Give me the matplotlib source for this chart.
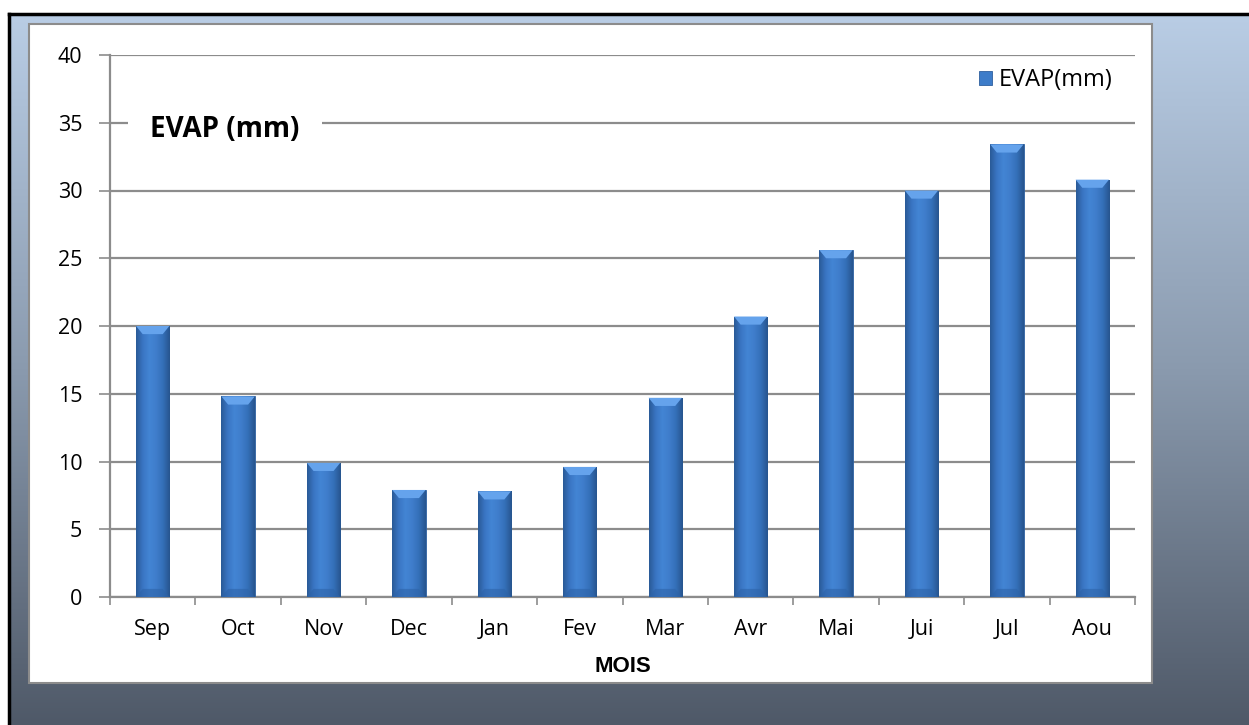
import numpy as np
import matplotlib
matplotlib.use("Agg")
import matplotlib.pyplot as plt
from matplotlib.patches import Rectangle, Polygon
from matplotlib.colors import LinearSegmentedColormap

months = ["Sep", "Oct", "Nov", "Dec", "Jan", "Fev", "Mar", "Avr", "Mai", "Jui", "Jul", "Aou"]
evap = [20.0, 14.8, 9.9, 7.9, 7.8, 9.6, 14.7, 20.7, 25.6, 30.0, 33.4, 30.8]
yticks = [0, 5, 10, 15, 20, 25, 30, 35, 40]
series_name = "EVAP(mm)"
title_text = "EVAP (mm)"
xlabel_text = "MOIS"

W, H = 1249, 725
fig = plt.figure(figsize=(W / 100, H / 100), dpi=100)

def fx(px):
    return px / W

def fy(py):
    return 1 - py / H

# background gradient
bg = fig.add_axes([fx(9), 0, 1 - fx(9), fy(14)])
bg.set_zorder(-5)
bg.set_axis_off()
grad = np.linspace(0, 1, 256).reshape(-1, 1)
bgcmap = LinearSegmentedColormap.from_list("bg", ["#b9cde5", "#8a9aae", "#4f5968"])
bg.imshow(grad, aspect="auto", cmap=bgcmap, extent=[0, 1, 0, 1], origin="upper")
bg.set_xlim(0, 1)
bg.set_ylim(0, 1)
bg.plot([0, 0], [0, 1], color="black", lw=2.5, transform=bg.transAxes, clip_on=False)
bg.plot([0, 1], [1, 1], color="black", lw=2.5, transform=bg.transAxes, clip_on=False)

# white panel
fig.patches.append(Rectangle((fx(29), fy(683)), fx(1152) - fx(29), fy(24) - fy(683),
                             transform=fig.transFigure, facecolor="white",
                             edgecolor="#8c8c8c", lw=1.5, zorder=-2))

ax = fig.add_axes([fx(110), fy(597), fx(1135) - fx(110), fy(55) - fy(597)])
ax.set_zorder(1)
ax.set_facecolor("none")
x = np.arange(len(months))
bars = ax.bar(x, evap, width=0.39, color="#3d7cc9", edgecolor="#2e5f9e", lw=0.6,
              label=series_name, zorder=3)

barcmap = LinearSegmentedColormap.from_list(
    "bar", ["#2a5a98", "#3a76c4", "#4385d4", "#3f7dcb", "#3470b8", "#27558f"])
hgrad = np.linspace(0, 1, 64).reshape(1, -1)
for b in bars:
    x0, y0 = b.get_x(), b.get_y()
    w, h = b.get_width(), b.get_height()
    im = ax.imshow(hgrad, aspect="auto", cmap=barcmap, extent=[x0, x0 + w, y0, y0 + h],
                   zorder=3.5, interpolation="bilinear")
    im.set_clip_path(b)
    bev = 0.6
    d = w * 0.2
    ax.add_patch(Polygon([[x0, y0 + h], [x0 + w, y0 + h], [x0 + w - d, y0 + h - bev],
                          [x0 + d, y0 + h - bev]], closed=True, facecolor="#65a3ec",
                         edgecolor="none", zorder=4))
    ax.add_patch(Polygon([[x0, y0], [x0 + w, y0], [x0 + w - d, y0 + bev],
                          [x0 + d, y0 + bev]], closed=True, facecolor="#2d63a8",
                         edgecolor="none", zorder=4, alpha=0.6))

ax.set_xlim(-0.5, len(months) - 0.5)
ax.set_ylim(0, 40)
ax.set_yticks(yticks)
ax.set_yticklabels([str(v) for v in yticks], fontsize=15.5, family="Open Sans")
ax.yaxis.grid(True, color="#8c8c8c", lw=1.6, zorder=1)
ax.set_axisbelow(True)
ax.set_xticks(np.arange(len(months) + 1) - 0.5)
ax.set_xticklabels([])
ax.set_xticks(x, minor=True)
ax.set_xticklabels(months, minor=True, fontsize=15.5, family="Open Sans")
ax.tick_params(axis="x", which="major", length=6, color="#8c8c8c", width=1.2)
ax.tick_params(axis="x", which="minor", length=0, pad=16)
ax.tick_params(axis="y", length=8, color="#8c8c8c", width=1.2, pad=12)
for s in ["top", "right"]:
    ax.spines[s].set_visible(False)
for s in ["left", "bottom"]:
    ax.spines[s].set_color("#8c8c8c")
    ax.spines[s].set_linewidth(1.6)

ax.set_xlabel(xlabel_text, fontsize=16, fontweight="bold", family="Liberation Sans", labelpad=11)
ax.text(0.039, 0.863, title_text, transform=ax.transAxes, fontsize=20, fontweight="bold",
        family="Open Sans", va="center", ha="left", zorder=5,
        bbox=dict(facecolor="white", edgecolor="none", pad=16))
ax.legend(loc="upper right", bbox_to_anchor=(0.99, 0.997), frameon=False, borderpad=0,
          prop={"family": "Open Sans", "size": 17}, handlelength=0.55, handleheight=0.55,
          handletextpad=0.3)

fig.savefig("out.png", dpi=100)
